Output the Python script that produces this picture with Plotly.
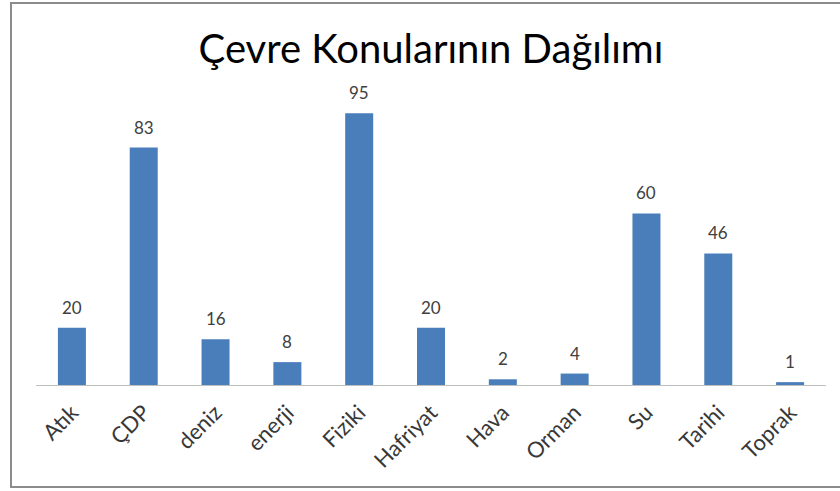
import plotly.graph_objects as go

categories = ["Atık", "ÇDP", "deniz", "enerji", "Fiziki", "Hafriyat", "Hava", "Orman", "Su", "Tarihi", "Toprak"]
values = [20, 83, 16, 8, 95, 20, 2, 4, 60, 46, 1]
title_text = "Çevre Konularının Dağılımı"

FONT = "Lato, Open Sans, sans-serif"

fig = go.Figure()
fig.add_trace(go.Bar(
    x=categories, y=values,
    marker=dict(color="#4a7ebb", line=dict(width=0)),
    hoverinfo="x+y",
))

for c, v in zip(categories, values):
    fig.add_annotation(x=c, y=v, text=str(v), showarrow=False,
                       yanchor="bottom", yshift=8,
                       font=dict(family=FONT, size=17, color="#404040"))

L, R, T, B = 36, 14, 99, 106
W, H = 840, 491
pw, ph = W - L - R, H - T - B
def px(xp):
    return (xp - L) / pw
def py(yp):
    return (H - B - yp) / ph

fig.add_shape(type="rect", xref="paper", yref="paper",
              x0=px(11), x1=px(850), y0=py(487), y1=py(3),
              line=dict(color="#8c8c8c", width=2), fillcolor="rgba(0,0,0,0)", layer="below")

fig.update_layout(
    width=W, height=H,
    margin=dict(l=L, r=R, t=T, b=B, autoexpand=False),
    paper_bgcolor="white", plot_bgcolor="white",
    bargap=0.61,
    showlegend=False,
    title=dict(text=title_text, x=0.5, xref="paper", xanchor="center",
               y=1 - 49 / H, yanchor="middle",
               font=dict(family=FONT, size=40, color="#000000")),
    xaxis=dict(tickangle=-45, showline=True, linecolor="#bfbfbf", linewidth=1,
               ticks="", showgrid=False, ticklabelstandoff=5, automargin=False,
               tickfont=dict(family=FONT, size=22, color="#383838")),
    yaxis=dict(range=[0, 100], visible=False, showgrid=False, zeroline=False),
)

fig.write_html("out.html", config={"displayModeBar": False},
               post_script="document.body.style.margin='0px';document.body.style.overflow='hidden';")
